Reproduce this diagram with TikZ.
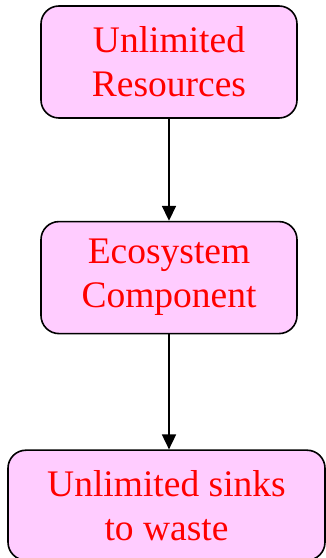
\documentclass[tikz,border=0pt]{standalone}
\usepackage{fontspec}
\setmainfont{Liberation Serif}
\usetikzlibrary{positioning,arrows.meta}
\definecolor{boxpink}{HTML}{FFCCFF}
\tikzset{
  stage/.style={draw, line width=1.6pt, rounded corners=18pt, fill=boxpink,
    text=red, align=center, inner sep=0pt,
    font=\fontsize{37.5}{44}\selectfont},
  flow/.style={-{Triangle[length=15pt,width=14pt]}, line width=1.8pt}
}
\begin{document}
\begin{tikzpicture}[x=1pt,y=1pt]
  \useasboundingbox (0,0) rectangle (326,558);
  \node[stage, minimum width=256pt, minimum height=112pt] (res) at (169,496)
    {Unlimited\\Resources};
  \node[stage, minimum width=256pt, minimum height=112pt, below=102pt of res] (eco)
    {Ecosystem\\Component};
  \node[stage, minimum width=317pt, minimum height=110pt, below=115pt of eco,
    xshift=-2.5pt] (sink) {Unlimited sinks\\to waste};
  \draw[flow] (res) -- (eco);
  \draw[flow] (eco.south) -- (eco.south |- sink.north);
\end{tikzpicture}
\end{document}
